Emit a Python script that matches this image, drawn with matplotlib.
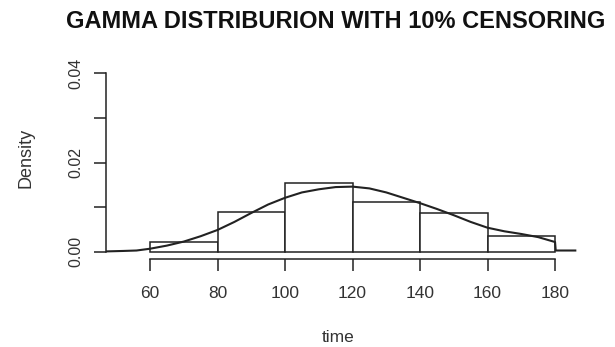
import numpy as np
import matplotlib
matplotlib.use("Agg")
import matplotlib.pyplot as plt
from matplotlib import font_manager as fm

plt.rcParams['font.family'] = ['Liberation Sans', 'DejaVu Sans']

# histogram (density scale)
breaks = [60, 80, 100, 120, 140, 160, 180]
density = [0.0022, 0.0090, 0.0153, 0.0112, 0.0087, 0.0036]

# fitted gamma curve
curve_x = [47, 52, 56, 60, 65, 70, 75, 80, 85, 90, 95, 100, 105, 110, 115, 120,
           125, 130, 135, 140, 145, 150, 155, 160, 165, 170, 175, 180, 180.2, 186]
curve_y = [0.0001, 0.0002, 0.0003, 0.0007, 0.0014, 0.0023, 0.0035, 0.0049, 0.0067,
           0.0087, 0.0106, 0.0121, 0.0133, 0.0140, 0.0145, 0.0146, 0.0142, 0.0133,
           0.0121, 0.0109, 0.0096, 0.0082, 0.0067, 0.0054, 0.0046, 0.0040, 0.0033,
           0.0022, 0.0003, 0.0003]

xticks = [60, 80, 100, 120, 140, 160, 180]
yticks = [0.00, 0.01, 0.02, 0.03, 0.04]
ylabels = ['0.00', '', '0.02', '', '0.04']

# pick the regular-width bold face (avoid "Liberation Sans Narrow")
bold_file = None
for f in fm.fontManager.ttflist:
    if f.name == 'Liberation Sans' and f.weight in (700, 'bold') and f.style == 'normal':
        bold_file = f.fname
title_font = fm.FontProperties(fname=bold_file) if bold_file else \
    fm.FontProperties(family='DejaVu Sans', weight='bold')

W, H = 615, 347
fig = plt.figure(figsize=(W / 100, H / 100), dpi=100)
# plot region in pixels: left 106, right 578, top 66, bottom 259
ax = fig.add_axes([106 / W, (H - 259) / H, (578 - 106) / W, (259 - 66) / H])

ink = '#222222'
widths = np.diff(breaks)
ax.bar(breaks[:-1], density, width=widths, align='edge', color='white',
       edgecolor=ink, linewidth=1.1)
ax.plot(curve_x, curve_y, color=ink, linewidth=1.5)

ax.set_xlim(46.96, 186.8)
ax.set_ylim(-0.0016, 0.0416)

for s in ['top', 'right']:
    ax.spines[s].set_visible(False)
ax.spines['bottom'].set_bounds(60, 180)
ax.spines['left'].set_bounds(0, 0.04)
for s in ['bottom', 'left']:
    ax.spines[s].set_color(ink)
    ax.spines[s].set_linewidth(1.1)

ax.set_xticks(xticks)
ax.set_xticklabels([str(t) for t in xticks])
ax.set_yticks(yticks)
ax.set_yticklabels(ylabels, rotation=90, va='center')
ax.tick_params(axis='both', length=8.6, width=1.1, color=ink, labelcolor='#333333')
ax.tick_params(axis='x', pad=10.5, labelsize=12.5)
ax.tick_params(axis='y', pad=8, labelsize=11.5)

fig.text(338 / W, 1 - 337 / H, 'time', ha='center', va='center', fontsize=12.5,
         color='#333333')
fig.text(26 / W, 1 - 158 / H, 'Density', ha='center', va='center', fontsize=13,
         rotation=90, color='#333333')
title_font.set_size(17)
fig.text(336 / W, 1 - 22 / H, 'GAMMA DISTRIBURION WITH 10% CENSORING',
         ha='center', va='center', fontproperties=title_font, color='#111111')

fig.savefig('out.png', dpi=100, facecolor='white')
